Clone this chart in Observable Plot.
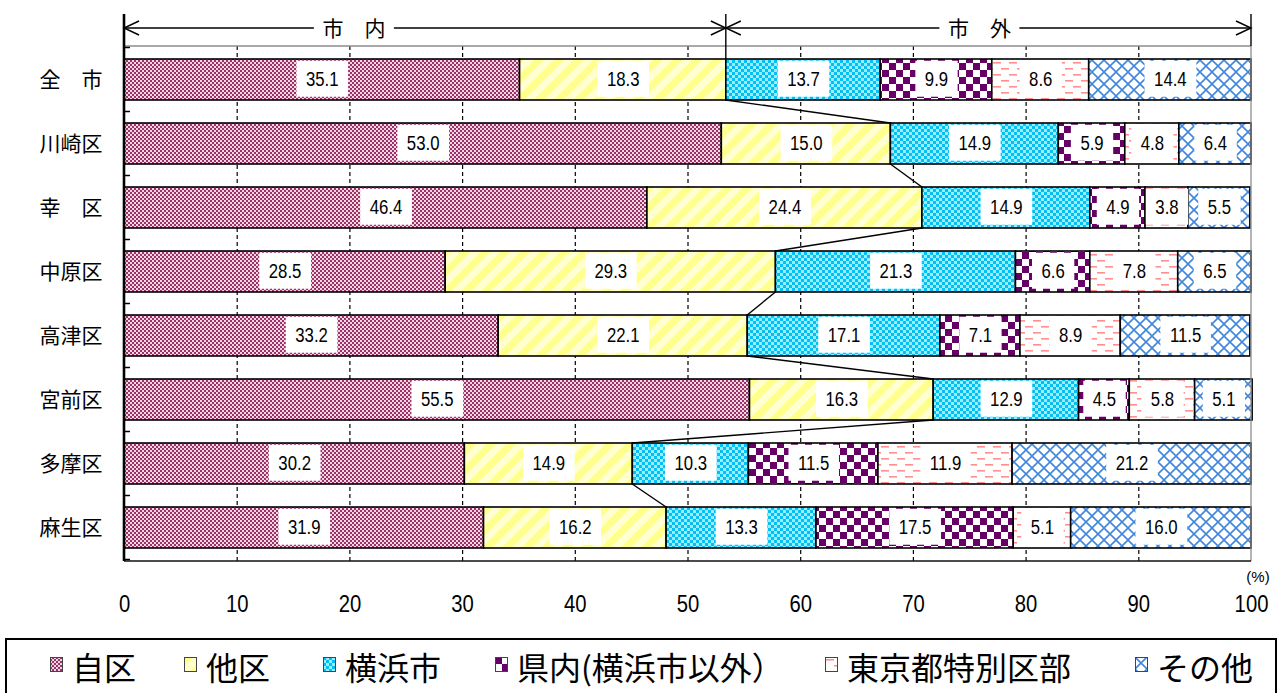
<!DOCTYPE html>
<html>
<head>
<meta charset="utf-8">
<script src="https://cdn.jsdelivr.net/npm/d3@7"></script>
<script src="https://cdn.jsdelivr.net/npm/@observablehq/plot@0.6"></script>
<style>
  html, body { margin: 0; padding: 0; background: #fff; overflow: hidden; }
  #chart { position: absolute; left: 0; top: 0; }
  #legend {
    position: absolute; left: 5px; top: 638px; width: 1272px; height: 80px;
    border: 2px solid #000; box-sizing: border-box; background: #fff;
    font-family: "Noto Sans CJK JP", sans-serif; font-size: 32px; color: #000;
  }
  .item { position: absolute; top: 4px; display: flex; align-items: center; white-space: nowrap; line-height: 44px; }
  .item svg { margin-right: 9px; margin-top: -4px; }
</style>
</head>
<body>
<div id="chart"></div>
<div id="legend"></div>
<script>
// ---- data ----
const districts = ["全　市", "川崎区", "幸　区", "中原区", "高津区", "宮前区", "多摩区", "麻生区"];
const categories = ["自区", "他区", "横浜市", "県内(横浜市以外）", "東京都特別区部", "その他"];
const ownWard    = [35.1, 53.0, 46.4, 28.5, 33.2, 55.5, 30.2, 31.9];
const otherWard  = [18.3, 15.0, 24.4, 29.3, 22.1, 16.3, 14.9, 16.2];
const yokohama   = [13.7, 14.9, 14.9, 21.3, 17.1, 12.9, 10.3, 13.3];
const prefecture = [9.9, 5.9, 4.9, 6.6, 7.1, 4.5, 11.5, 17.5];
const tokyo      = [8.6, 4.8, 3.8, 7.8, 8.9, 5.8, 11.9, 5.1];
const others     = [14.4, 6.4, 5.5, 6.5, 11.5, 5.1, 21.2, 16.0];
const xTicks = [0, 10, 20, 30, 40, 50, 60, 70, 80, 90, 100];
const groupLabels = ["市　内", "市　外"];
const groupLabelAt = [20.4, 75.9];
const legendX = [48, 182, 321, 493, 823, 1133];

// ---- table built from the arrays ----
const series = [ownWard, otherWard, yokohama, prefecture, tokyo, others];
const rows = [];
districts.forEach((d, i) => {
  categories.forEach((c, j) => rows.push({district: d, category: c, value: series[j][i]}));
});
const patternUrls = categories.map((c, i) => `url(#pat${i})`);
const numFont = `"Liberation Sans Narrow", "Arial Narrow", "Liberation Sans", sans-serif`;
const jpFont = `"Noto Sans CJK JP", sans-serif`;

const plot = Plot.plot({
  width: 1279, height: 630,
  marginLeft: 124, marginRight: 28, marginTop: 46, marginBottom: 69,
  style: {background: "white", fontFamily: numFont},
  x: {domain: [0, 100], label: null},
  y: {domain: districts, paddingInner: 0.36, paddingOuter: 0.18, label: null},
  color: {domain: categories, range: patternUrls},
  marks: [
    Plot.ruleX(xTicks.slice(1, -1), {stroke: "black", strokeWidth: 1.2, strokeDasharray: "4,3"}),
    Plot.barX(rows, Plot.stackX({x: "value", y: "district", fill: "category", stroke: "black", strokeWidth: 1.6})),
    Plot.text(rows, Plot.stackX({x: "value", y: "district", z: "category", text: d => d.value.toFixed(1), fill: "black", fontSize: 19.5, fontFamily: numFont})),
    Plot.axisX({ticks: xTicks, tickSize: 0, tickPadding: 34, fontSize: 23, fontFamily: numFont, label: null, tickFormat: d => String(d)}),
    Plot.axisY({tickSize: 0, tickPadding: 22, fontSize: 21, fontFamily: jpFont, label: null})
  ]
});
document.getElementById("chart").append(plot);

const svg = d3.select(plot);
const xs = plot.scale("x");
const ys = plot.scale("y");
const bw = ys.bandwidth;
const step = ys.step;
const X = v => xs.apply(v);
const Ytop = d => ys.apply(d);
const plotTop = 46, plotBottom = 630 - 69;

// ---- patterns ----
const defs = svg.insert("defs", ":first-child");
function pat(id, w, h, build, transform) {
  const p = defs.append("pattern").attr("id", id).attr("patternUnits", "userSpaceOnUse")
    .attr("width", w).attr("height", h);
  if (transform) p.attr("patternTransform", transform);
  build(p);
}
// 自区 small maroon checker
pat("pat0", 4, 4, p => {
  p.append("rect").attr("width", 4).attr("height", 4).attr("fill", "#9E3068");
  p.append("rect").attr("x", 0.1).attr("y", 0.1).attr("width", 1.8).attr("height", 1.8).attr("fill", "#fff");
  p.append("rect").attr("x", 2.1).attr("y", 2.1).attr("width", 1.8).attr("height", 1.8).attr("fill", "#fff");
});
// 他区 yellow diagonal stripes
pat("pat1", 14, 14, p => {
  p.append("rect").attr("width", 14).attr("height", 14).attr("fill", "#FFFFD2");
  p.append("rect").attr("width", 7).attr("height", 14).attr("fill", "#FFFF8C");
}, "rotate(45)");
// 横浜市 cyan dots
pat("pat2", 6, 6, p => {
  p.append("rect").attr("width", 6).attr("height", 6).attr("fill", "#9FEAFF");
  p.append("rect").attr("x", 0).attr("y", 0).attr("width", 3).attr("height", 3).attr("fill", "#00C2F2");
  p.append("rect").attr("x", 3).attr("y", 3).attr("width", 3).attr("height", 3).attr("fill", "#00C2F2");
});
// 県内 large purple checker
pat("pat3", 14, 14, p => {
  p.append("rect").attr("width", 14).attr("height", 14).attr("fill", "#fff");
  p.append("rect").attr("width", 7).attr("height", 7).attr("fill", "#660066");
  p.append("rect").attr("x", 7).attr("y", 7).attr("width", 7).attr("height", 7).attr("fill", "#660066");
});
// 東京都 pink dashes
pat("pat4", 16, 12, p => {
  p.append("rect").attr("width", 16).attr("height", 12).attr("fill", "#fff");
  p.append("rect").attr("x", 1).attr("y", 2).attr("width", 8).attr("height", 1.6).attr("fill", "#FF9090");
  p.append("rect").attr("x", 9).attr("y", 8).attr("width", 8).attr("height", 1.6).attr("fill", "#FF9090");
  p.append("rect").attr("x", -7).attr("y", 8).attr("width", 8).attr("height", 1.6).attr("fill", "#FF9090");
});
// その他 blue lattice
pat("pat5", 12, 12, p => {
  p.append("rect").attr("width", 12).attr("height", 12).attr("fill", "#fff");
  p.append("path").attr("d", "M0,0L12,12M12,0L0,12").attr("stroke", "#3F86DC").attr("stroke-width", 1.6).attr("fill", "none");
});

// condense a text horizontally around its own centre
function condense(el, s) {
  const b = el.getBBox();
  const cx = b.x + b.width / 2;
  const t = el.getAttribute("transform") || "";
  el.setAttribute("transform", `${t} translate(${cx},0) scale(${s},1) translate(${-cx},0)`);
  return {b, cx, base: t};
}

// ---- white label boxes behind the values ----
svg.selectAll('g[aria-label="text"] text').each(function () {
  const s = 0.86;
  const {b, cx, base} = condense(this, s);
  const padX = 9.5, hh = bw - 5;
  const cy = b.y + b.height / 2;
  const w = b.width * s + 2 * padX;
  const r = document.createElementNS("http://www.w3.org/2000/svg", "rect");
  r.setAttribute("x", cx - w / 2);
  r.setAttribute("y", cy - hh / 2 - 0.5);
  r.setAttribute("width", w);
  r.setAttribute("height", hh);
  r.setAttribute("fill", "#fff");
  if (base) r.setAttribute("transform", base);
  this.parentNode.insertBefore(r, this);
});
// narrower x tick labels
svg.selectAll('g[aria-label="x-axis tick label"] text').each(function () { condense(this, 0.88); });

const over = svg.append("g");
// ---- frame ----
over.append("line").attr("x1", X(0)).attr("x2", X(100)).attr("y1", plotTop).attr("y2", plotTop).attr("stroke", "#8c8c8c").attr("stroke-width", 1.3);
over.append("line").attr("x1", X(100)).attr("x2", X(100)).attr("y1", plotTop).attr("y2", plotBottom).attr("stroke", "#8c8c8c").attr("stroke-width", 1.3);
over.append("line").attr("x1", X(0)).attr("x2", X(100)).attr("y1", plotBottom).attr("y2", plotBottom).attr("stroke", "#111").attr("stroke-width", 1.3);
over.append("line").attr("x1", X(0)).attr("x2", X(0)).attr("y1", 14).attr("y2", plotBottom).attr("stroke", "#000").attr("stroke-width", 2.6);
// small ticks at row boundaries
districts.forEach((d, i) => {
  const yb = Ytop(d) - (step - bw) / 2;
  over.append("line").attr("x1", X(0)).attr("x2", X(0) + 6).attr("y1", yb).attr("y2", yb).attr("stroke", "#000").attr("stroke-width", 1.5);
});
{
  const yb = Ytop(districts[districts.length - 1]) + bw + (step - bw) / 2;
  over.append("line").attr("x1", X(0)).attr("x2", X(0) + 6).attr("y1", yb).attr("y2", yb).attr("stroke", "#000").attr("stroke-width", 1.5);
}

// ---- connectors between 市内 ends ----
const inner = districts.map((d, i) => ownWard[i] + otherWard[i]);
for (let i = 0; i < districts.length - 1; i++) {
  over.append("line")
    .attr("x1", X(inner[i])).attr("y1", Ytop(districts[i]) + bw)
    .attr("x2", X(inner[i + 1])).attr("y2", Ytop(districts[i + 1]))
    .attr("stroke", "#000").attr("stroke-width", 1.4);
}

// ---- 市内 / 市外 bracket ----
const by = 28;
const mid = X(inner[0]);
const br = over.append("g").attr("stroke", "#000").attr("stroke-width", 1.4).attr("fill", "none");
br.append("line").attr("x1", X(0)).attr("x2", X(100)).attr("y1", by).attr("y2", by);
br.append("line").attr("x1", mid).attr("x2", mid).attr("y1", 14).attr("y2", Ytop(districts[0]));
br.append("line").attr("x1", X(100)).attr("x2", X(100)).attr("y1", 14).attr("y2", plotTop);
const ah = 15, aw = 7;
br.append("path").attr("d", `M${X(0) + ah},${by - aw}L${X(0)},${by}L${X(0) + ah},${by + aw}`);
br.append("path").attr("d", `M${mid - ah},${by - aw}L${mid},${by}L${mid - ah},${by + aw}`);
br.append("path").attr("d", `M${mid + ah},${by - aw}L${mid},${by}L${mid + ah},${by + aw}`);
br.append("path").attr("d", `M${X(100) - ah},${by - aw}L${X(100)},${by}L${X(100) - ah},${by + aw}`);
groupLabels.forEach((g, i) => {
  const cx = X(groupLabelAt[i]);
  over.append("rect").attr("x", cx - 40).attr("y", by - 12).attr("width", 80).attr("height", 24).attr("fill", "#fff");
  over.append("text").attr("x", cx).attr("y", by).attr("dy", "0.36em").attr("text-anchor", "middle")
    .attr("font-family", jpFont).attr("font-size", 21).attr("fill", "#000").text(g);
});

// ---- (%) ----
over.append("text").attr("x", X(100) + 7).attr("y", 577).attr("dy", "0.35em").attr("text-anchor", "middle")
  .attr("font-family", numFont).attr("font-size", 15).attr("fill", "#000").text("(%)");

// ---- legend ----
const legend = d3.select("#legend");
categories.forEach((c, i) => {
  const it = legend.append("div").attr("class", "item").style("left", (legendX[i] - 5) + "px");
  const s = it.append("svg").attr("width", 13).attr("height", 15);
  s.append("rect").attr("x", 0.5).attr("y", 0.5).attr("width", 12).attr("height", 14)
    .attr("fill", patternUrls[i]).attr("stroke", "#444").attr("stroke-width", 1);
  it.append("span").text(c);
});
</script>
</body>
</html>
